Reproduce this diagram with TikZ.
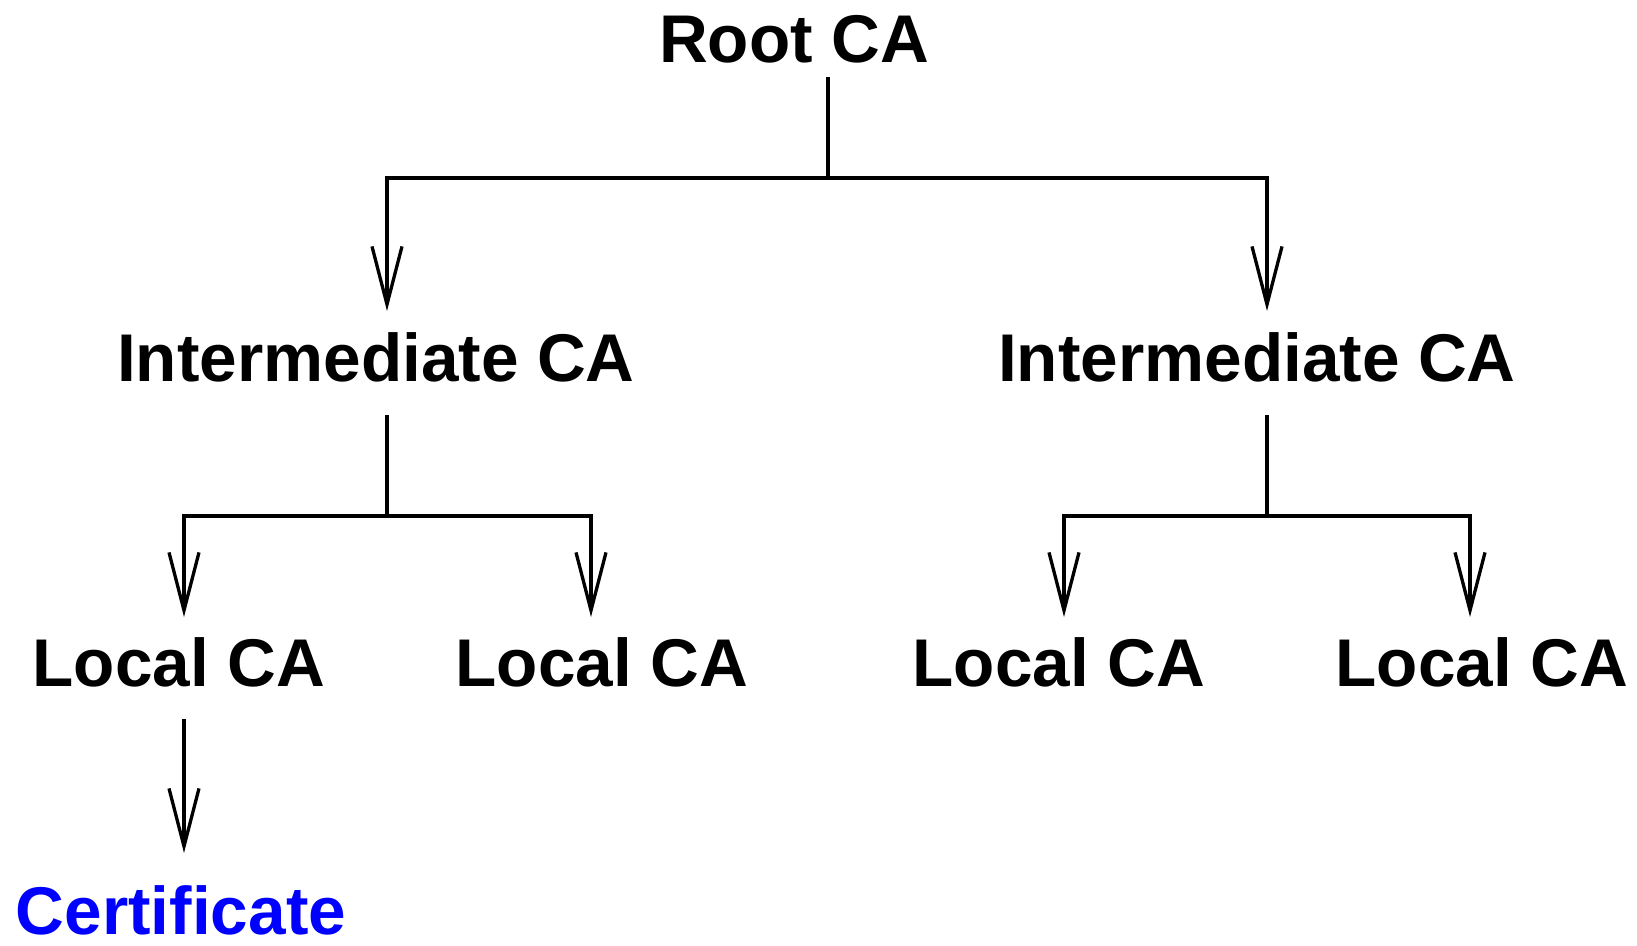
\documentclass[tikz,border=0pt]{standalone}
\usepackage{fontspec}
\setmainfont{Liberation Sans}
\usetikzlibrary{arrows.meta}
\begin{document}
\begin{tikzpicture}[x=1pt,y=-1pt,
  lbl/.style={anchor=base,inner sep=0pt,font=\fontsize{67.5}{80}\selectfont\bfseries},
  wire/.style={line width=3.3pt,line join=miter},
  arr/.style={wire,-{Straight Barb[length=58pt,width=30pt,line width=3.3pt]}}]
\useasboundingbox (0,0) rectangle (1637,945);
% nodes
\node[lbl] (root) at (794,62) {Root CA};
\node[lbl] (i1) at (376,381) {Intermediate CA};
\node[lbl] (i2) at (1257,381) {Intermediate CA};
\node[lbl] (l1) at (179,686) {Local CA};
\node[lbl] (l2) at (602,686) {Local CA};
\node[lbl] (l3) at (1059,686) {Local CA};
\node[lbl] (l4) at (1482,686) {Local CA};
\node[lbl,text={rgb,255:red,0;green,0;blue,255}] (cert) at (181,934) {Certificate};
% junctions
\coordinate (j0) at (828,178);
\coordinate (j1) at (387,516);
\coordinate (j2) at (1267,516);
% root fork
\draw[wire] (j0 |- 0,77) -- (j0);
\draw[arr] (j0) -| (387,311);
\draw[arr] (j0) -| (1267,311);
% left intermediate fork
\draw[wire] (j1 |- 0,415) -- (j1);
\draw[arr] (j1) -| (184,617);
\draw[arr] (j1) -| (591,617);
% right intermediate fork
\draw[wire] (j2 |- 0,415) -- (j2);
\draw[arr] (j2) -| (1064,617);
\draw[arr] (j2) -| (1470,617);
% local to certificate
\draw[arr] (184,719) -- (184,853);
\end{tikzpicture}
\end{document}
